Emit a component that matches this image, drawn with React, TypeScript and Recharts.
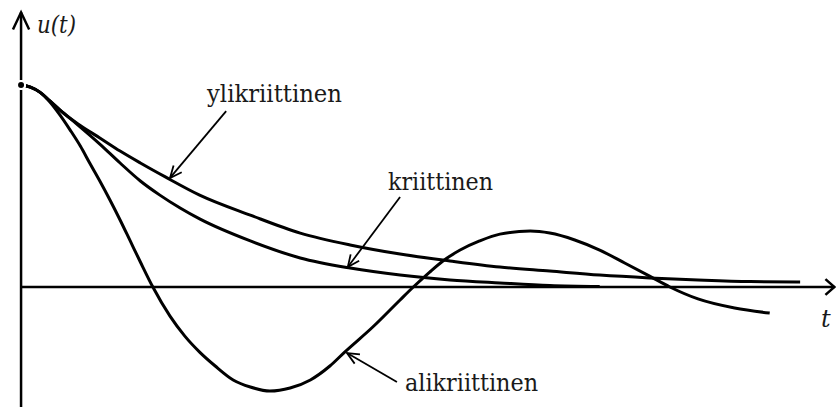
import React from 'react';
import { LineChart, Line, XAxis, YAxis, ReferenceLine } from 'recharts';

const W = 836;
const H = 407;

// ylikriittinen (overdamped)
const overT = [0, 0.12, 0.24, 0.37, 0.5, 0.73, 1.01, 1.27, 1.53, 1.85, 2.29, 2.94, 3.58, 4.22, 4.86, 5.5, 6.14, 6.78, 7.42, 8.06, 8.68, 9.35, 9.99];
const overU = [1.0, 0.99, 0.965, 0.921, 0.876, 0.807, 0.738, 0.673, 0.614, 0.545, 0.455, 0.356, 0.267, 0.208, 0.163, 0.129, 0.099, 0.079, 0.059, 0.045, 0.035, 0.027, 0.025];

// kriittinen (critically damped)
const critT = [0, 0.12, 0.24, 0.37, 0.5, 0.73, 1.01, 1.27, 1.53, 1.78, 2.04, 2.29, 2.94, 3.58, 4.22, 4.86, 5.5, 6.14, 6.78, 7.42];
const critU = [1.0, 0.99, 0.965, 0.921, 0.876, 0.802, 0.708, 0.614, 0.525, 0.455, 0.391, 0.337, 0.228, 0.144, 0.094, 0.059, 0.035, 0.02, 0.007, 0.002];

// alikriittinen (underdamped)
const underT = [0, 0.12, 0.24, 0.37, 0.5, 0.63, 0.76, 0.88, 1.01, 1.14, 1.27, 1.4, 1.53, 1.69, 1.91, 2.1, 2.29, 2.49, 2.72, 2.94, 3.19, 3.45, 3.71, 3.96, 4.15, 4.51, 4.86, 5.03, 5.24, 5.41, 5.63, 5.88, 6.14, 6.53, 6.78, 7.1, 7.42, 7.74, 8.06, 8.32, 8.68, 9.15, 9.6];
const underU = [1.0, 0.99, 0.965, 0.916, 0.851, 0.777, 0.698, 0.614, 0.525, 0.431, 0.332, 0.228, 0.124, 0, -0.144, -0.243, -0.322, -0.391, -0.46, -0.495, -0.515, -0.5, -0.46, -0.391, -0.322, -0.198, -0.064, 0, 0.074, 0.129, 0.183, 0.228, 0.262, 0.277, 0.267, 0.233, 0.183, 0.119, 0.054, 0, -0.059, -0.104, -0.129];

const zip = (t: number[], u: number[]) => t.map((x, i) => ({ t: x, u: u[i] }));

const overData = zip(overT, overU);
const critData = zip(critT, critU);
const underData = zip(underT, underU);

// pointer arrows: [from, to] in data units
const pointers = [
  { from: { x: 2.63, y: 0.871 }, to: { x: 1.91, y: 0.54 } },
  { from: { x: 4.86, y: 0.446 }, to: { x: 4.19, y: 0.099 } },
  { from: { x: 4.82, y: -0.47 }, to: { x: 4.18, y: -0.327 } },
];

const arrow = (len: number, spread: number, width: number) => (p: any) => {
  const { x1, y1, x2, y2 } = p;
  const a = Math.atan2(y2 - y1, x2 - x1);
  const arm = (s: number) => `${x2 - len * Math.cos(a + s)},${y2 - len * Math.sin(a + s)}`;
  return (
    <g>
      <line x1={x1} y1={y1} x2={x2} y2={y2} stroke="#000" strokeWidth={width} />
      <polyline points={`${arm(spread)} ${x2},${y2} ${arm(-spread)}`} fill="none" stroke="#000" strokeWidth={width} strokeLinejoin="miter" />
    </g>
  );
};

const textStyle: React.CSSProperties = { fontFamily: "'DejaVu Serif', serif", fontSize: 24, fill: '#1a1a1a' };
const italic: React.CSSProperties = { ...textStyle, fontStyle: 'italic' };

export default function App() {
  return (
    <div style={{ position: 'absolute', left: 0, top: 0, width: W, height: H, background: '#fff' }}>
      <LineChart width={W} height={H} margin={{ top: 0, right: 0, bottom: 0, left: 0 }}>
        <XAxis type="number" dataKey="t" domain={[-0.27, 10.45]} allowDataOverflow hide />
        <YAxis type="number" dataKey="u" domain={[-0.594, 1.421]} allowDataOverflow hide />
        <ReferenceLine segment={[{ x: 0, y: -0.594 }, { x: 0, y: 1.36 }]} ifOverflow="visible" shape={arrow(19, 0.44, 2.5)} />
        <ReferenceLine segment={[{ x: 0, y: 0 }, { x: 10.43, y: 0 }]} ifOverflow="visible" shape={arrow(12, 0.72, 2.5)} />
        {pointers.map((p, i) => (
          <ReferenceLine key={i} segment={[p.from, p.to]} ifOverflow="visible" shape={arrow(13, 0.42, 1.8)} />
        ))}
        <Line data={overData} dataKey="u" type="monotone" stroke="#000" strokeWidth={3} dot={false} isAnimationActive={false} />
        <Line data={critData} dataKey="u" type="monotone" stroke="#000" strokeWidth={3} dot={false} isAnimationActive={false} />
        <Line data={underData} dataKey="u" type="monotone" stroke="#000" strokeWidth={3} dot={false} isAnimationActive={false} />
      </LineChart>
      <svg width={W} height={H} style={{ position: 'absolute', left: 0, top: 0, pointerEvents: 'none' }}>
        <text x={37} y={33} style={italic} textLength={39} lengthAdjust="spacingAndGlyphs">u(t)</text>
        <text x={207} y={102} style={textStyle} textLength={135} lengthAdjust="spacingAndGlyphs">ylikriittinen</text>
        <text x={388} y={190} style={textStyle} textLength={105} lengthAdjust="spacingAndGlyphs">kriittinen</text>
        <text x={405} y={391} style={textStyle} textLength={133} lengthAdjust="spacingAndGlyphs">alikriittinen</text>
        <text x={821} y={327} style={italic}>t</text>
      </svg>
    </div>
  );
}
